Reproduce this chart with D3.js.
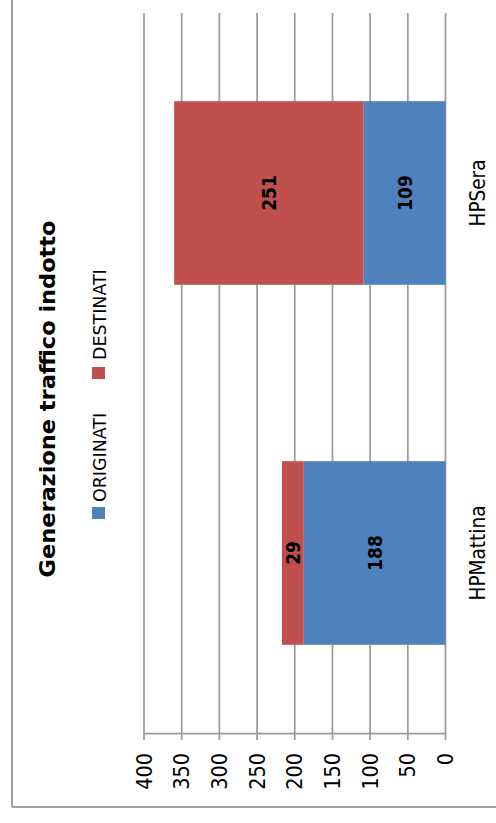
<!DOCTYPE html>
<html>
<head>
<meta charset="utf-8">
<script src="https://cdn.jsdelivr.net/npm/d3@7"></script>
<style>
  html, body { margin: 0; padding: 0; background: #fff; }
  svg { display: block; }
  text { font-family: "DejaVu Sans", sans-serif; }
</style>
</head>
<body>
<script>
// ---- data ----
const categories = ["HPMattina", "HPSera"];
const originati = [188, 109];
const destinati = [29, 251];
const tickValues = [0, 50, 100, 150, 200, 250, 300, 350, 400];
const seriesNames = ["ORIGINATI", "DESTINATI"];
const seriesColors = ["#4F81BD", "#C0504D"];
const title = "Generazione traffico indotto";

// ---- layout ----
const W = 496, H = 823;
const svg = d3.select("body").append("svg").attr("width", W).attr("height", H);

// chart is drawn rotated 90° counter-clockwise: values run right -> left, categories bottom -> top
const x = d3.scaleLinear().domain([0, 400]).range([445.5, 144]);
const y = d3.scaleBand().domain(categories).range([733, 13]).paddingInner(0.49).paddingOuter(0.245);

function rtext(sel, px, py, s) {
  return sel.attr("transform", `translate(${px},${py}) rotate(-90) scale(${s},1)`);
}

// outer border
svg.append("line").attr("x1", 12).attr("x2", 12).attr("y1", 0).attr("y2", 807)
  .attr("stroke", "#a0a0a0").attr("stroke-width", 2);
svg.append("line").attr("x1", 12).attr("x2", W).attr("y1", 807).attr("y2", 807)
  .attr("stroke", "#a0a0a0").attr("stroke-width", 2);

// gridlines + ticks
const grid = svg.append("g");
grid.selectAll("line.g").data(tickValues).join("line")
  .attr("class", "g")
  .attr("x1", d => x(d)).attr("x2", d => x(d))
  .attr("y1", 13).attr("y2", 740)
  .attr("stroke", "#9c9c9c").attr("stroke-width", 1.75);
// value axis line
svg.append("line").attr("x1", x(400)).attr("x2", x(0)).attr("y1", 733.5).attr("y2", 733.5)
  .attr("stroke", "#9c9c9c").attr("stroke-width", 1.75);

// tick labels
svg.append("g").selectAll("text").data(tickValues).join("text")
  .each(function(d) { rtext(d3.select(this), x(d), 753, 0.92); })
  .attr("text-anchor", "end").attr("dy", "0.36em")
  .attr("font-size", 21).attr("fill", "#000")
  .text(d => d);

// stacked bars
const stackData = categories.map((c, i) => ({ cat: c, o: originati[i], d: destinati[i] }));
const bars = svg.append("g");
stackData.forEach(r => {
  bars.append("rect")
    .attr("x", x(r.o)).attr("width", x(0) - x(r.o))
    .attr("y", y(r.cat)).attr("height", y.bandwidth())
    .attr("fill", seriesColors[0]);
  bars.append("rect")
    .attr("x", x(r.o + r.d)).attr("width", x(r.o) - x(r.o + r.d))
    .attr("y", y(r.cat)).attr("height", y.bandwidth())
    .attr("fill", seriesColors[1]);
});

// data labels
const labels = svg.append("g");
stackData.forEach(r => {
  const cy = y(r.cat) + y.bandwidth() / 2;
  rtext(labels.append("text"), (x(0) + x(r.o)) / 2, cy, 0.85)
    .attr("text-anchor", "middle").attr("dy", "0.36em")
    .attr("font-size", 20).attr("font-weight", "bold").attr("fill", "#000")
    .text(r.o);
  rtext(labels.append("text"), (x(r.o) + x(r.o + r.d)) / 2, cy, 0.85)
    .attr("text-anchor", "middle").attr("dy", "0.36em")
    .attr("font-size", 20).attr("font-weight", "bold").attr("fill", "#000")
    .text(r.d);
});

// category labels
svg.append("g").selectAll("text").data(categories).join("text")
  .each(function(d) { rtext(d3.select(this), 485, y(d) + y.bandwidth() / 2, 0.84); })
  .attr("text-anchor", "middle")
  .attr("font-size", 22).attr("fill", "#000")
  .text(d => d);

// title
rtext(svg.append("text"), 55, 399, 1.07)
  .attr("text-anchor", "middle")
  .attr("font-size", 21).attr("font-weight", "bold").attr("fill", "#000")
  .text(title);

// legend
const legendItems = [
  { name: seriesNames[0], color: seriesColors[0], sq: 507, tx: 502 },
  { name: seriesNames[1], color: seriesColors[1], sq: 367, tx: 360 }
];
legendItems.forEach(li => {
  svg.append("rect").attr("x", 92).attr("y", li.sq).attr("width", 13).attr("height", 12)
    .attr("fill", li.color);
  rtext(svg.append("text"), 105.5, li.tx, 0.97)
    .attr("text-anchor", "start")
    .attr("font-size", 18).attr("fill", "#000")
    .text(li.name);
});
</script>
</body>
</html>
